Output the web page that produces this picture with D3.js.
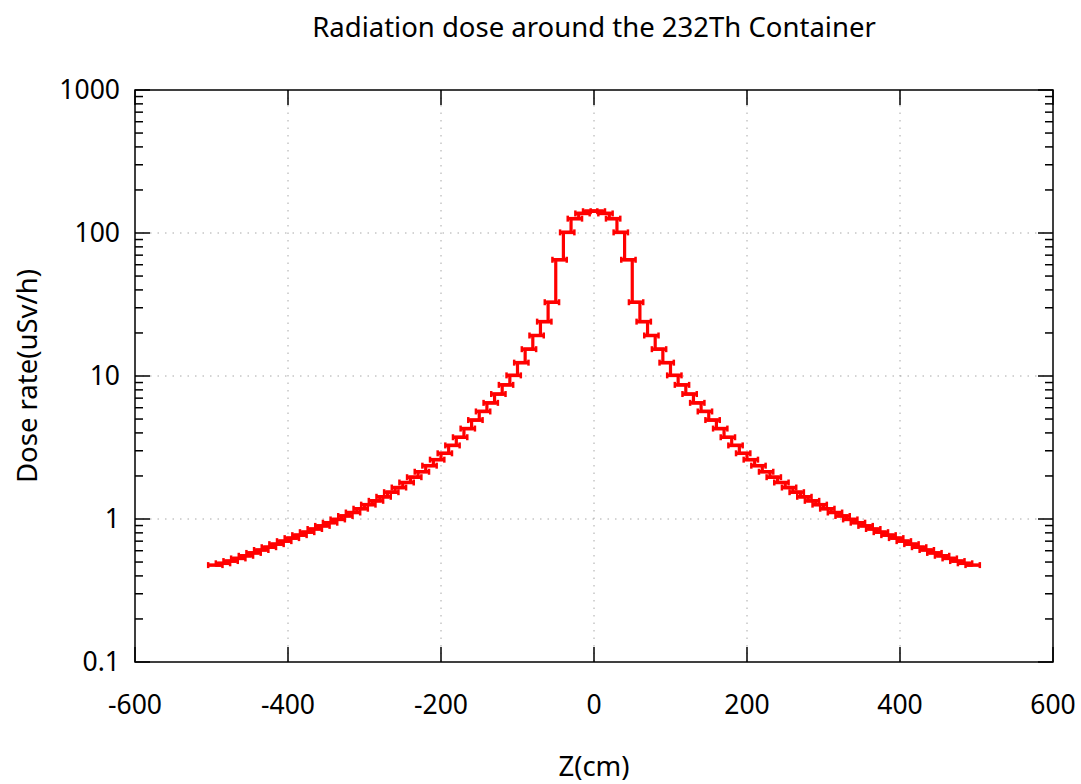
<!DOCTYPE html>
<html>
<head>
<meta charset="utf-8">
<script src="https://cdn.jsdelivr.net/npm/d3@7"></script>
<style>
  body { margin: 0; background: #fff; }
  text { font-family: "Noto Sans", sans-serif; fill: #000; }
</style>
</head>
<body>
<div id="chart"></div>
<script>
// dose rate per 10 cm bin (bin centres)
var zPos = [
  -495, -485, -475, -465, -455, -445, -435, -425, -415, -405,
  -395, -385, -375, -365, -355, -345, -335, -325, -315, -305,
  -295, -285, -275, -265, -255, -245, -235, -225, -215, -205,
  -195, -185, -175, -165, -155, -145, -135, -125, -115, -105,
  -95, -85, -75, -65, -55, -45, -35, -25, -15, -5,
  5, 15, 25, 35, 45, 55, 65, 75, 85, 95,
  105, 115, 125, 135, 145, 155, 165, 175, 185, 195,
  205, 215, 225, 235, 245, 255, 265, 275, 285, 295,
  305, 315, 325, 335, 345, 355, 365, 375, 385, 395,
  405, 415, 425, 435, 445, 455, 465, 475, 485, 495
]
var doseRate = [
  0.476, 0.490, 0.508, 0.530, 0.553, 0.579, 0.607, 0.635, 0.667, 0.700,
  0.735, 0.771, 0.809, 0.851, 0.895, 0.942, 0.993, 1.05, 1.11, 1.18,
  1.26, 1.34, 1.43, 1.54, 1.66, 1.80, 1.96, 2.14, 2.36, 2.60,
  2.88, 3.27, 3.73, 4.29, 4.92, 5.65, 6.49, 7.48, 8.67, 10.1,
  12.4, 15.4, 19.2, 24.0, 32.8, 65.0, 101, 126, 137, 142,
  142, 137, 126, 101, 65.0, 32.8, 24.0, 19.2, 15.4, 12.4,
  10.1, 8.67, 7.48, 6.49, 5.65, 4.92, 4.29, 3.73, 3.27, 2.88,
  2.60, 2.36, 2.14, 1.96, 1.80, 1.66, 1.54, 1.43, 1.34, 1.26,
  1.18, 1.11, 1.05, 0.993, 0.942, 0.895, 0.851, 0.809, 0.771, 0.735,
  0.700, 0.667, 0.635, 0.607, 0.579, 0.553, 0.530, 0.508, 0.490, 0.476
]
var zErr = 10   // horizontal error bar half width (cm)

var xTicks = [-600, -400, -200, 0, 200, 400, 600]
var yTicks = [0.1, 1, 10, 100, 1000]
var yTickLabels = ["0.1", "1", "10", "100", "1000"]

var titleText = "Radiation dose around the 232Th Container"
var xLabel = "Z(cm)"
var yLabel = "Dose rate(uSv/h)"

var width = 1081
var height = 784
var plotL = 135, plotR = 1053, plotT = 90, plotB = 662
var tickFont = 26.5
var labelFont = 27.5

var svg = d3.select("#chart")
  .append("svg")
  .attr("width", width)
  .attr("height", height)

var x = d3.scaleLinear()
  .domain([-600, 600])
  .range([plotL, plotR])

var y = d3.scaleLog()
  .domain([0.1, 1000])
  .range([plotB, plotT])

// grid
var grid = svg.append("g")
  .attr("stroke", "#a8a8a8")
  .attr("stroke-width", 1)
  .attr("stroke-dasharray", "1.5,6")

grid.selectAll(".vgrid")
  .data(xTicks.filter(function (d) { return d > -600 && d < 600 }))
  .enter()
  .append("line")
  .attr("x1", function (d) { return x(d) })
  .attr("x2", function (d) { return x(d) })
  .attr("y1", plotT)
  .attr("y2", plotB)

grid.selectAll(".hgrid")
  .data(yTicks.filter(function (d) { return d > 0.1 && d < 1000 }))
  .enter()
  .append("line")
  .attr("x1", plotL)
  .attr("x2", plotR)
  .attr("y1", function (d) { return y(d) })
  .attr("y2", function (d) { return y(d) })

// ticks
var tickG = svg.append("g")
  .attr("stroke", "#000")
  .attr("stroke-width", 1.5)

var majorLen = 15, minorLen = 8

xTicks.forEach(function (t) {
  tickG.append("line").attr("x1", x(t)).attr("x2", x(t)).attr("y1", plotB).attr("y2", plotB - majorLen)
  tickG.append("line").attr("x1", x(t)).attr("x2", x(t)).attr("y1", plotT).attr("y2", plotT + majorLen)
})

yTicks.forEach(function (t) {
  tickG.append("line").attr("x1", plotL).attr("x2", plotL + majorLen).attr("y1", y(t)).attr("y2", y(t))
  tickG.append("line").attr("x1", plotR).attr("x2", plotR - majorLen).attr("y1", y(t)).attr("y2", y(t))
})

var minor = y.ticks().filter(function (d) {
  var l = Math.log10(d)
  return Math.abs(l - Math.round(l)) > 1e-6
})
minor.forEach(function (t) {
  tickG.append("line").attr("x1", plotL).attr("x2", plotL + minorLen).attr("y1", y(t)).attr("y2", y(t))
  tickG.append("line").attr("x1", plotR).attr("x2", plotR - minorLen).attr("y1", y(t)).attr("y2", y(t))
})

// tick labels
svg.append("g")
  .selectAll("text")
  .data(xTicks)
  .enter()
  .append("text")
  .attr("x", function (d) { return x(d) })
  .attr("y", 714)
  .attr("text-anchor", "middle")
  .style("font-size", tickFont + "px")
  .text(function (d) { return d })

svg.append("g")
  .selectAll("text")
  .data(yTicks)
  .enter()
  .append("text")
  .attr("x", 120)
  .attr("y", function (d) { return y(d) })
  .attr("dy", "0.35em")
  .attr("text-anchor", "end")
  .style("font-size", tickFont + "px")
  .text(function (d, i) { return yTickLabels[i] })

// data: histogram steps
var line = d3.line()
  .x(function (d, i) { return x(zPos[i]) })
  .y(function (d) { return y(d) })
  .curve(d3.curveStep)

svg.append("path")
  .datum(doseRate)
  .attr("d", line)
  .attr("fill", "none")
  .attr("stroke", "#ff0000")
  .attr("stroke-width", 3.2)

// horizontal error bars with small whiskers
var bars = svg.append("g")
  .attr("stroke", "#ff0000")
  .attr("stroke-width", 3.5)

doseRate.forEach(function (v, i) {
  var x0 = x(zPos[i] - zErr), x1 = x(zPos[i] + zErr), yy = y(v)
  bars.append("line").attr("x1", x0).attr("x2", x1).attr("y1", yy).attr("y2", yy)
  bars.append("line").attr("x1", x0 + 0.5).attr("x2", x0 + 0.5).attr("y1", yy - 3).attr("y2", yy + 3)
    .attr("stroke-width", 2.5)
  bars.append("line").attr("x1", x1 - 0.5).attr("x2", x1 - 0.5).attr("y1", yy - 3).attr("y2", yy + 3)
    .attr("stroke-width", 2.5)
})

// frame
svg.append("rect")
  .attr("x", plotL)
  .attr("y", plotT)
  .attr("width", plotR - plotL)
  .attr("height", plotB - plotT)
  .attr("fill", "none")
  .attr("stroke", "#000")
  .attr("stroke-width", 1.5)

// titles
svg.append("text")
  .attr("x", (plotL + plotR) / 2)
  .attr("y", 37)
  .attr("text-anchor", "middle")
  .style("font-size", labelFont + "px")
  .text(titleText)

svg.append("text")
  .attr("x", (plotL + plotR) / 2)
  .attr("y", 776)
  .attr("text-anchor", "middle")
  .style("font-size", labelFont + "px")
  .text(xLabel)

svg.append("text")
  .attr("transform", "translate(27," + ((plotT + plotB) / 2) + ") rotate(-90)")
  .attr("dy", "0.35em")
  .attr("text-anchor", "middle")
  .style("font-size", labelFont + "px")
  .text(yLabel)
</script>
</body>
</html>
